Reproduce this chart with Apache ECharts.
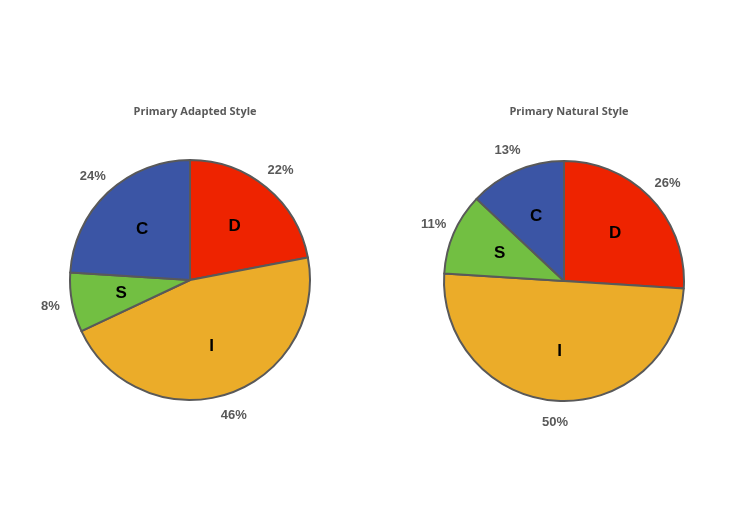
<!DOCTYPE html>
<html lang="en">

<head>
    <meta charset="UTF-8">
    <title>Primary Adapted / Natural Style</title>
    <script src="https://cdn.jsdelivr.net/npm/echarts@6/dist/echarts.min.js"></script>
    <style>
        body {
            margin: 0;
            background: #ffffff;
        }

        #chart {
            width: 752px;
            height: 508px;
        }
    </style>
</head>

<body>
    <div id="chart"></div>

    <script>
        // DISC categories, clockwise from 12 o'clock
        const categories = ['D', 'I', 'S', 'C'];
        const adaptedValues = [22, 46, 8, 24];
        const naturalValues = [26, 50, 11, 13];
        const titles = ['Primary Adapted Style', 'Primary Natural Style'];
        const colors = ['#EE2300', '#EBAC29', '#72BF42', '#3B55A5'];

        const pieCenters = [[190, 280], [564, 281]];
        const pieRadius = 120;

        function toData(values, colored) {
            return categories.map((name, i) => ({
                name,
                value: values[i],
                itemStyle: colored ? { color: colors[i] } : { color: 'rgba(0,0,0,0)' }
            }));
        }

        function pieSeries(values, center) {
            return [
                // the pie itself
                {
                    type: 'pie',
                    center: center,
                    radius: pieRadius,
                    startAngle: 90,
                    clockwise: true,
                    silent: true,
                    animation: false,
                    data: toData(values, true),
                    itemStyle: { borderColor: '#595959', borderWidth: 2 },
                    label: { show: false },
                    labelLine: { show: false }
                },
                // invisible disc for the letters, pushed a bit outward
                {
                    type: 'pie',
                    center: center,
                    radius: [0, pieRadius + 14],
                    startAngle: 90,
                    clockwise: true,
                    silent: true,
                    animation: false,
                    data: toData(values, false),
                    itemStyle: { borderWidth: 0 },
                    label: {
                        show: true,
                        position: 'inside',
                        formatter: '{b}',
                        color: '#000',
                        fontFamily: 'Liberation Sans, Arial, sans-serif',
                        fontWeight: 'bold',
                        fontSize: 17
                    },
                    labelLine: { show: false }
                },
                // invisible ring only used to place the percentages around the pie
                {
                    type: 'pie',
                    center: center,
                    radius: [pieRadius + 8, pieRadius + 30],
                    startAngle: 90,
                    clockwise: true,
                    silent: true,
                    animation: false,
                    data: toData(values, false),
                    itemStyle: { borderWidth: 0 },
                    label: {
                        show: true,
                        position: 'inside',
                        formatter: '{c}%',
                        color: '#595959',
                        fontFamily: 'Liberation Sans, Arial, sans-serif',
                        fontWeight: 'bold',
                        fontSize: 13
                    },
                    labelLine: { show: false }
                }
            ];
        }

        const chart = echarts.init(document.getElementById('chart'));
        chart.setOption({
            backgroundColor: '#ffffff',
            title: titles.map((text, i) => ({
                text,
                left: pieCenters[i][0],
                top: 101,
                textAlign: 'center',
                textStyle: {
                    fontFamily: 'Open Sans, sans-serif',
                    fontWeight: 'bold',
                    fontSize: 11,
                    color: '#595959'
                }
            })),
            series: [
                ...pieSeries(adaptedValues, pieCenters[0]),
                ...pieSeries(naturalValues, pieCenters[1])
            ]
        });
    </script>
</body>

</html>
